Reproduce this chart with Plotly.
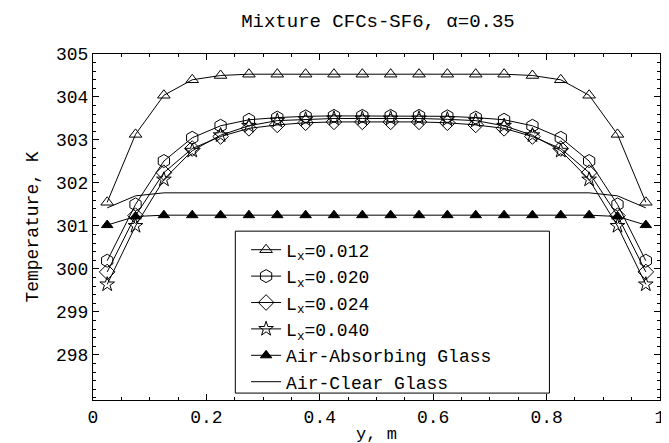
import plotly.graph_objects as go

# ---- data ----
y_pos = [0.025, 0.075, 0.125, 0.175, 0.225, 0.275, 0.325, 0.375, 0.425, 0.475,
         0.525, 0.575, 0.625, 0.675, 0.725, 0.775, 0.825, 0.875, 0.925, 0.975]

temp_L012 = [301.55, 303.13, 304.04, 304.40, 304.50, 304.53, 304.53, 304.53, 304.53, 304.53,
             304.53, 304.53, 304.53, 304.53, 304.53, 304.50, 304.40, 304.04, 303.13, 301.55]
temp_L020 = [300.19, 301.50, 302.51, 303.05, 303.33, 303.47, 303.52, 303.55, 303.56, 303.56,
             303.56, 303.56, 303.55, 303.52, 303.47, 303.33, 303.05, 302.51, 301.50, 300.19]
temp_L024 = [299.93, 301.24, 302.24, 302.80, 303.08, 303.27, 303.35, 303.40, 303.42, 303.42,
             303.42, 303.42, 303.40, 303.35, 303.27, 303.08, 302.80, 302.24, 301.24, 299.93]
temp_L040 = [299.64, 301.00, 302.08, 302.75, 303.11, 303.33, 303.45, 303.48, 303.50, 303.50,
             303.50, 303.50, 303.48, 303.45, 303.33, 303.11, 302.75, 302.08, 301.00, 299.64]
temp_air_abs = [301.02, 301.22, 301.25, 301.25, 301.25, 301.25, 301.25, 301.25, 301.25, 301.25,
                301.25, 301.25, 301.25, 301.25, 301.25, 301.25, 301.25, 301.25, 301.22, 301.02]
temp_air_clear = [301.42, 301.70, 301.77, 301.77, 301.77, 301.77, 301.77, 301.77, 301.77, 301.77,
                  301.77, 301.77, 301.77, 301.77, 301.77, 301.77, 301.77, 301.77, 301.70, 301.42]

series_names = ["L<sub>x</sub>=0.012", "L<sub>x</sub>=0.020", "L<sub>x</sub>=0.024",
                "L<sub>x</sub>=0.040", "Air-Absorbing Glass", "Air-Clear Glass"]

x_tickvals = [0, 0.2, 0.4, 0.6, 0.8, 1]
x_ticktext = ["0", "0.2", "0.4", "0.6", "0.8", "1"]
y_tickvals = [298, 299, 300, 301, 302, 303, 304, 305]

FONT = "Liberation Mono, DejaVu Sans Mono, monospace"

series = [
    (series_names[0], temp_L012, "triangle-up-open", 11),
    (series_names[1], temp_L020, "hexagon-open", 13),
    (series_names[2], temp_L024, "diamond-open", 12),
    (series_names[3], temp_L040, "star-open", 11),
    (series_names[4], temp_air_abs, "triangle-up", 10),
    (series_names[5], temp_air_clear, None, 0),
]

fig = go.Figure()
for i, (name, vals, sym, size) in enumerate(series):
    if sym is None:
        fig.add_trace(go.Scatter(x=y_pos, y=vals, name=name, mode="lines",
                                 line=dict(color="black", width=1)))
    else:
        fig.add_trace(go.Scatter(x=y_pos, y=vals, name=name, mode="lines+markers",
                                 line=dict(color="black", width=1),
                                 marker=dict(symbol=sym, size=size, color="black",
                                             line=dict(color="black", width=1))))

axis_common = dict(showline=True, linecolor="black", linewidth=1, mirror="ticks",
                   ticks="inside", ticklen=6, tickcolor="black", showgrid=False,
                   zeroline=False, tickfont=dict(family=FONT, size=18, color="black"))

fig.update_layout(
    width=669, height=443,
    margin=dict(l=85, r=14, t=46, b=51),
    paper_bgcolor="white", plot_bgcolor="white",
    font=dict(family=FONT, size=18, color="black"),
    title=dict(text="Mixture CFCs-SF6, α=0.35", x=0.553, xanchor="center",
               y=0.972, yanchor="middle", font=dict(family=FONT, size=19, color="black")),
    showlegend=True,
    legend=dict(x=0.27, xanchor="left", y=0.487, yanchor="top",
                bgcolor="rgba(0,0,0,0)", borderwidth=0, traceorder="normal",
                font=dict(family=FONT, size=18, color="black")),
    xaxis=dict(range=[0, 1], tickvals=x_tickvals, ticktext=x_ticktext,
               minor=dict(dtick=0.05, ticks="inside", ticklen=3, tickcolor="black"),
               title=dict(text="y, m", standoff=0, font=dict(family=FONT, size=17)),
               **axis_common),
    yaxis=dict(range=[296.95, 305], tickvals=y_tickvals,
               minor=dict(dtick=0.2, ticks="inside", ticklen=3, tickcolor="black"),
               title=dict(text="Temperature, K", standoff=12, font=dict(family=FONT, size=18)),
               **axis_common),
    shapes=[dict(type="rect", xref="paper", yref="paper", x0=0.251, x1=0.805,
                 y0=0.02, y1=0.488, line=dict(color="black", width=1),
                 fillcolor="rgba(0,0,0,0)", layer="above")],
)

fig.write_html("out.html")
